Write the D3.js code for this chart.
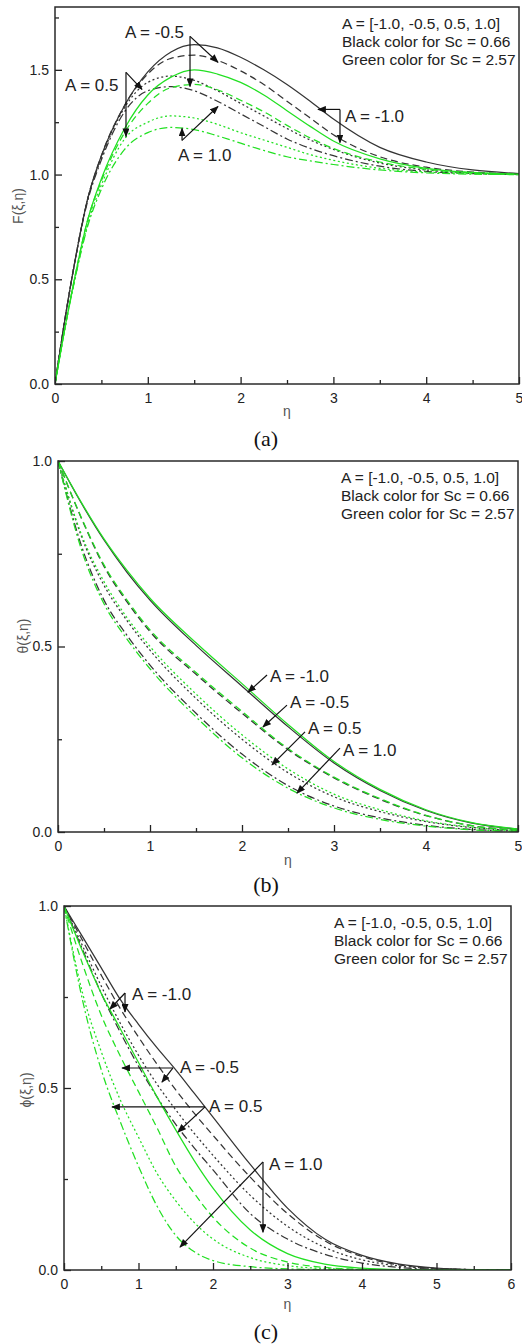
<!DOCTYPE html>
<html>
<head>
<meta charset="utf-8">
<script src="https://cdn.jsdelivr.net/npm/d3@7"></script>
<style>
  body { margin: 0; background: #fff; }
  svg { display: block; }
</style>
</head>
<body>
<script>
// ---- Parameters shared by all three panels ----
const aValues = ["-1.0", "-0.5", "0.5", "1.0"];          // one curve style per A
const dashStyles = [null, "7,4", "2,2.6", "8,3,2,3"];      // solid, dashed, dotted, dash-dot
const legendLines = ["A = [-1.0, -0.5, 0.5, 1.0]", "Black color for Sc = 0.66", "Green color for Sc = 2.57"];

// ---- (a) velocity profile F(ξ,η) ----
const etaF = [0, 0.1, 0.2, 0.35, 0.5, 0.75, 1.0, 1.25, 1.5, 1.75, 2.0, 2.25, 2.5, 2.75, 3.0, 3.5, 4.0, 4.5, 5.0];
const fBlack = [
  [0, 0.29, 0.55, 0.88, 1.09, 1.33, 1.49, 1.585, 1.62, 1.605, 1.56, 1.50, 1.43, 1.35, 1.265, 1.13, 1.06, 1.022, 1.005],
  [0, 0.29, 0.55, 0.88, 1.09, 1.33, 1.48, 1.555, 1.57, 1.545, 1.495, 1.43, 1.35, 1.27, 1.19, 1.085, 1.035, 1.012, 1.003],
  [0, 0.29, 0.55, 0.88, 1.08, 1.32, 1.44, 1.47, 1.45, 1.40, 1.34, 1.28, 1.22, 1.165, 1.12, 1.055, 1.022, 1.008, 1.001],
  [0, 0.29, 0.55, 0.87, 1.07, 1.30, 1.40, 1.42, 1.40, 1.35, 1.29, 1.23, 1.17, 1.125, 1.09, 1.04, 1.015, 1.005, 1.0]
];
const fGreen = [
  [0, 0.25, 0.48, 0.78, 0.98, 1.22, 1.38, 1.465, 1.50, 1.48, 1.44, 1.38, 1.305, 1.23, 1.16, 1.075, 1.03, 1.01, 1.002],
  [0, 0.25, 0.48, 0.78, 0.97, 1.20, 1.34, 1.415, 1.43, 1.405, 1.355, 1.30, 1.235, 1.175, 1.125, 1.06, 1.025, 1.008, 1.001],
  [0, 0.25, 0.47, 0.76, 0.95, 1.17, 1.25, 1.28, 1.27, 1.24, 1.20, 1.165, 1.13, 1.095, 1.068, 1.03, 1.012, 1.004, 1.0],
  [0, 0.25, 0.47, 0.75, 0.93, 1.12, 1.20, 1.225, 1.215, 1.185, 1.15, 1.115, 1.085, 1.065, 1.048, 1.022, 1.008, 1.002, 1.0]
];

// ---- (b) temperature profile θ(ξ,η) ----
const etaTheta = [0, 0.25, 0.5, 0.75, 1.0, 1.5, 2.0, 2.5, 3.0, 3.5, 4.0, 4.5, 5.0];
const thetaBlack = [
  [1, 0.888, 0.787, 0.70, 0.625, 0.503, 0.393, 0.284, 0.186, 0.112, 0.058, 0.024, 0.008],
  [1, 0.848, 0.716, 0.62, 0.54, 0.425, 0.32, 0.222, 0.146, 0.088, 0.044, 0.017, 0.005],
  [1, 0.80, 0.665, 0.57, 0.49, 0.36, 0.25, 0.16, 0.095, 0.055, 0.028, 0.012, 0.004],
  [1, 0.775, 0.625, 0.53, 0.45, 0.32, 0.21, 0.125, 0.07, 0.038, 0.018, 0.007, 0.002]
];
const thetaGreen = [
  [1, 0.89, 0.79, 0.705, 0.63, 0.51, 0.40, 0.29, 0.19, 0.115, 0.06, 0.025, 0.008],
  [1, 0.85, 0.72, 0.625, 0.545, 0.43, 0.325, 0.225, 0.148, 0.09, 0.045, 0.017, 0.005],
  [1, 0.805, 0.675, 0.578, 0.50, 0.372, 0.262, 0.17, 0.102, 0.06, 0.03, 0.013, 0.004],
  [1, 0.765, 0.615, 0.52, 0.44, 0.31, 0.20, 0.118, 0.065, 0.034, 0.016, 0.006, 0.002]
];

// ---- (c) concentration profile ϕ(ξ,η) ----
const etaPhi = [0, 0.25, 0.5, 0.75, 1.0, 1.25, 1.5, 1.75, 2.0, 2.5, 3.0, 3.5, 4.0, 4.5, 5.0, 5.5, 6.0];
const phiBlack = [
  [1, 0.915, 0.83, 0.745, 0.675, 0.61, 0.55, 0.485, 0.42, 0.29, 0.17, 0.085, 0.04, 0.016, 0.005, 0.001, 0],
  [1, 0.905, 0.81, 0.72, 0.64, 0.565, 0.495, 0.43, 0.37, 0.255, 0.155, 0.08, 0.037, 0.014, 0.004, 0.001, 0],
  [1, 0.89, 0.78, 0.68, 0.59, 0.51, 0.44, 0.375, 0.315, 0.205, 0.12, 0.062, 0.028, 0.011, 0.004, 0.001, 0],
  [1, 0.88, 0.76, 0.655, 0.56, 0.475, 0.40, 0.335, 0.275, 0.155, 0.085, 0.043, 0.019, 0.007, 0.002, 0.0005, 0]
];
const phiGreen = [
  [1, 0.875, 0.76, 0.665, 0.57, 0.475, 0.385, 0.30, 0.225, 0.11, 0.045, 0.016, 0.005, 0.001, 0, 0, 0],
  [1, 0.84, 0.70, 0.59, 0.49, 0.39, 0.285, 0.21, 0.145, 0.06, 0.022, 0.007, 0.002, 0, 0, 0, 0],
  [1, 0.76, 0.60, 0.47, 0.365, 0.265, 0.19, 0.13, 0.085, 0.034, 0.012, 0.004, 0.001, 0, 0, 0, 0],
  [1, 0.74, 0.55, 0.41, 0.285, 0.175, 0.095, 0.05, 0.026, 0.009, 0.003, 0.001, 0, 0, 0, 0, 0]
];

// ---- Tick values ----
const xTicks5 = [0, 1, 2, 3, 4, 5];
const xMinor5 = [0.5, 1.5, 2.5, 3.5, 4.5];
const xTicks6 = [0, 1, 2, 3, 4, 5, 6];
const xMinor6 = [0.5, 1.5, 2.5, 3.5, 4.5, 5.5];
const yTicksF = [0, 0.5, 1.0, 1.5];
const yMinorF = [0.25, 0.75, 1.25, 1.75];
const yTicksUnit = [0, 0.5, 1.0];
const yMinorUnit = [0.25, 0.75];

// ---- Layout and styling ----
const W = 522, H = 1344;
const BLACK = "#353535", GREEN = "#22e022", INK = "#222";
const SANS = "Arial, 'Liberation Sans', Helvetica, sans-serif";
const SERIF = "'Times New Roman', 'Liberation Serif', serif";

const svg = d3.select("body").append("svg")
  .attr("width", W).attr("height", H)
  .attr("viewBox", `0 0 ${W} ${H}`);

svg.append("rect").attr("width", W).attr("height", H).attr("fill", "#fff");

const defs = svg.append("defs");
defs.append("marker")
  .attr("id", "head")
  .attr("viewBox", "0 0 10 8")
  .attr("refX", 9).attr("refY", 4)
  .attr("markerWidth", 9).attr("markerHeight", 7)
  .attr("markerUnits", "userSpaceOnUse")
  .attr("orient", "auto")
  .append("path").attr("d", "M0,0 L10,4 L0,8 Z").attr("fill", "#111");

const panels = [
  {
    id: "a", box: { left: 55, right: 519, top: 7, bottom: 384 },
    xDomain: [0, 5], yDomain: [0, 1.8],
    xTicks: xTicks5, xMinor: xMinor5, yTicks: yTicksF, yMinor: yMinorF,
    eta: etaF, black: fBlack, green: fGreen,
    yTitle: "F(ξ,η)", yTitlePos: [18, 206], xTitleY: 411,
    caption: "(a)", captionY: 438,
    notes: [
      { text: "A = -0.5", at: [0.754, 1.68], from: [1.455, 1.66], to: [[1.756, 1.536], [1.455, 1.421]] },
      { text: "A = 0.5", at: [0.108, 1.426], from: [0.765, 1.488], to: [[0.9375, 1.407], [0.765, 1.182]] },
      { text: "A = 1.0", at: [1.325, 1.091], from: [1.369, 1.163], to: [[1.756, 1.325], [1.369, 1.22]] },
      { text: "A = -1.0", at: [3.125, 1.278], from: [3.071, 1.311], to: [[2.834, 1.311], [3.071, 1.153]] }
    ]
  },
  {
    id: "b", box: { left: 58, right: 518, top: 461, bottom: 832 },
    xDomain: [0, 5], yDomain: [0, 1],
    xTicks: xTicks5, xMinor: xMinor5, yTicks: yTicksUnit, yMinor: yMinorUnit,
    eta: etaTheta, black: thetaBlack, green: thetaGreen,
    yTitle: "θ(ξ,η)", yTitlePos: [23, 636], xTitleY: 860,
    caption: "(b)", captionY: 884,
    notes: [
      { text: "A = -1.0", at: [2.304, 0.42], from: [2.272, 0.423], to: [[2.065, 0.377]] },
      { text: "A = -0.5", at: [2.522, 0.35], from: [2.489, 0.342], to: [[2.228, 0.283]] },
      { text: "A = 0.5", at: [2.717, 0.28], from: [2.685, 0.27], to: [[2.326, 0.181]] },
      { text: "A = 1.0", at: [3.098, 0.221], from: [3.065, 0.226], to: [[2.598, 0.105]] }
    ]
  },
  {
    id: "c", box: { left: 64, right: 511, top: 906, bottom: 1270 },
    xDomain: [0, 6], yDomain: [0, 1],
    xTicks: xTicks6, xMinor: xMinor6, yTicks: yTicksUnit, yMinor: yMinorUnit,
    eta: etaPhi, black: phiBlack, green: phiGreen,
    yTitle: "ϕ(ξ,η)", yTitlePos: [26, 1090], xTitleY: 1304,
    caption: "(c)", captionY: 1331,
    notes: [
      { text: "A = -1.0", at: [0.913, 0.758], from: [0.819, 0.761], to: [[0.617, 0.717], [0.819, 0.709]] },
      { text: "A = -0.5", at: [1.557, 0.558], from: [1.463, 0.555], to: [[0.779, 0.555], [1.315, 0.516]] },
      { text: "A = 0.5", at: [1.946, 0.451], from: [1.893, 0.448], to: [[0.644, 0.448], [1.53, 0.379]] },
      { text: "A = 1.0", at: [2.752, 0.291], from: [2.671, 0.297], to: [[2.671, 0.104], [1.557, 0.063]] }
    ]
  }
];

panels.forEach(drawPanel);

function drawPanel(p) {
  const b = p.box;
  const x = d3.scaleLinear().domain(p.xDomain).range([b.left, b.right]);
  const y = d3.scaleLinear().domain(p.yDomain).range([b.bottom, b.top]);
  const g = svg.append("g").attr("class", "panel-" + p.id);

  const clipId = "clip-" + p.id;
  defs.append("clipPath").attr("id", clipId)
    .append("rect").attr("x", b.left).attr("y", b.top - 2)
    .attr("width", b.right - b.left + 2).attr("height", b.bottom - b.top + 2);

  // curves: Sc = 0.66 in black, Sc = 2.57 in green; line style by A
  const line = d3.line().x(d => x(d[0])).y(d => y(d[1])).curve(d3.curveMonotoneX);
  const curves = g.append("g").attr("clip-path", `url(#${clipId})`);
  [[p.black, BLACK], [p.green, GREEN]].forEach(([sets, color]) => {
    sets.forEach((vals, i) => {
      curves.append("path")
        .datum(p.eta.map((e, k) => [e, vals[k]]))
        .attr("d", line)
        .attr("fill", "none")
        .attr("stroke", color)
        .attr("stroke-width", 1.25)
        .attr("stroke-dasharray", dashStyles[i])
        .attr("data-a", aValues[i]);
    });
  });

  // axes with inward ticks
  const axisStyle = sel => {
    sel.select(".domain").remove();
    sel.selectAll("line").attr("stroke", "#222").attr("stroke-width", 1.3);
    sel.selectAll("text").attr("fill", INK).style("font-family", SANS).style("font-size", "14px");
  };
  g.append("g").attr("transform", `translate(0,${b.bottom})`)
    .call(d3.axisBottom(x).tickValues(p.xTicks).tickSize(-7).tickPadding(9).tickFormat(d3.format("d")))
    .call(axisStyle);
  g.append("g").attr("transform", `translate(0,${b.bottom})`)
    .call(d3.axisBottom(x).tickValues(p.xMinor).tickSize(-4).tickFormat(""))
    .call(axisStyle);
  g.append("g").attr("transform", `translate(${b.left},0)`)
    .call(d3.axisLeft(y).tickValues(p.yTicks).tickSize(-7).tickPadding(6).tickFormat(d3.format(".1f")))
    .call(axisStyle);
  g.append("g").attr("transform", `translate(${b.left},0)`)
    .call(d3.axisLeft(y).tickValues(p.yMinor).tickSize(-4).tickFormat(""))
    .call(axisStyle);

  // plot frame
  g.append("rect")
    .attr("x", b.left).attr("y", b.top)
    .attr("width", b.right - b.left).attr("height", b.bottom - b.top)
    .attr("fill", "none").attr("stroke", "#2a2a2a").attr("stroke-width", 1.5);

  // legend text block in the upper-right corner
  g.append("g").selectAll("text").data(legendLines).join("text")
    .attr("x", b.right - 177)
    .attr("y", (d, i) => b.top + 17 + i * 18)
    .attr("dy", "0.35em")
    .attr("fill", INK)
    .style("font-family", SANS).style("font-size", "15.5px")
    .text(d => d);

  // annotations: label plus arrow(s) pointing at the curves
  const ann = g.append("g");
  p.notes.forEach(n => {
    n.to.forEach(t => {
      ann.append("line")
        .attr("x1", x(n.from[0])).attr("y1", y(n.from[1]))
        .attr("x2", x(t[0])).attr("y2", y(t[1]))
        .attr("stroke", "#111").attr("stroke-width", 1.2)
        .attr("marker-end", "url(#head)");
    });
    ann.append("text")
      .attr("x", x(n.at[0])).attr("y", y(n.at[1]))
      .attr("dy", "0.35em")
      .attr("fill", INK)
      .style("font-family", SANS).style("font-size", "17px")
      .text(n.text);
  });

  // axis titles
  g.append("text")
    .attr("transform", `translate(${p.yTitlePos[0]},${p.yTitlePos[1]}) rotate(-90)`)
    .attr("text-anchor", "middle").attr("dy", "0.35em")
    .attr("fill", "#555")
    .style("font-family", SANS).style("font-size", "14px")
    .text(p.yTitle);
  g.append("text")
    .attr("x", (b.left + b.right) / 2).attr("y", p.xTitleY)
    .attr("text-anchor", "middle").attr("dy", "0.35em")
    .attr("fill", "#555")
    .style("font-family", SANS).style("font-size", "14px")
    .text("η");

  // sub-figure caption
  svg.append("text")
    .attr("x", 266).attr("y", p.captionY)
    .attr("text-anchor", "middle").attr("dy", "0.35em")
    .attr("fill", "#111")
    .style("font-family", SERIF).style("font-size", "22px")
    .text(p.caption);
}
</script>
</body>
</html>
